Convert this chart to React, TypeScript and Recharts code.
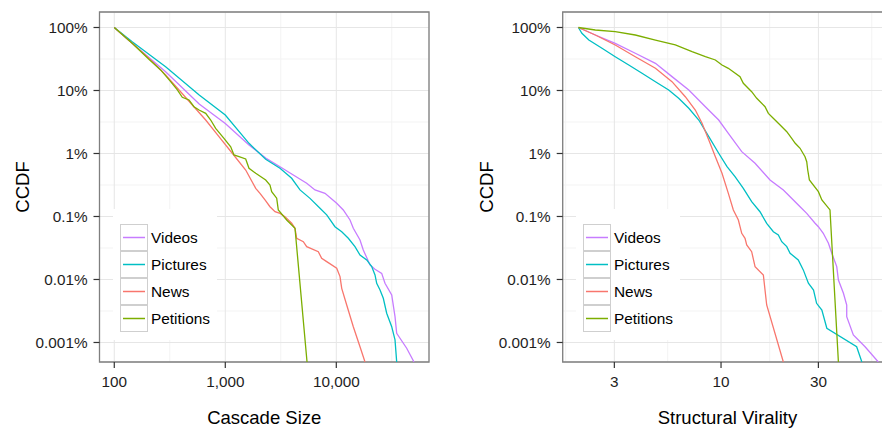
import React from 'react';
import { LineChart, Line, XAxis, YAxis, CartesianGrid, ReferenceArea, Legend } from 'recharts';

const FONT = '"Liberation Sans", Arial, Helvetica, sans-serif';

const seriesNames = ['Videos', 'Pictures', 'News', 'Petitions'];
const seriesColors = ['#C77CFF', '#00BFC4', '#F8766D', '#7CAE00'];

// y axis (CCDF, shared)
const yTicks = [1, 0.1, 0.01, 0.001, 0.0001, 0.00001];
const yTickLabels = ['100%', '10%', '1%', '0.1%', '0.01%', '0.001%'];
const yMinor = [0.316228, 0.0316228, 0.00316228, 0.000316228, 0.0000316228];
const yDomain = [0.0000049, 1.762];

// left panel: Cascade Size
const sizeTicks = [100, 1000, 10000];
const sizeTickLabels = ['100', '1,000', '10,000'];
const sizeMinor = [316.228, 3162.28, 31622.8];
const sizeDomain = [73.6, 68400];

const sizeVideos: [number, number][] = [
  [100, 1], [145, 0.561], [290, 0.199], [582, 0.0611], [1000, 0.0299], [1635, 0.0136], [2312, 0.0085],
  [3110, 0.00617], [4099, 0.00456], [5412, 0.00337], [6427, 0.00264], [7907, 0.00233], [10083, 0.00162],
  [11560, 0.00127], [13290, 0.00088], [14230, 0.00065], [16350, 0.000424], [17500, 0.000294],
  [20130, 0.00017], [22320, 0.000145], [25640, 0.000125], [27460, 0.000087], [31560, 0.0000568],
  [33800, 0.0000257], [35000, 0.000014], [43060, 0.0000081], [50120, 0.0000049],
];
const sizePictures: [number, number][] = [
  [100, 1], [145, 0.595], [290, 0.239], [582, 0.0849], [1000, 0.0408], [1635, 0.0145], [2312, 0.00809],
  [3110, 0.00582], [3962, 0.00404], [4710, 0.00264], [5797, 0.00194], [7130, 0.00135], [8195, 0.00106],
  [9727, 0.000689], [11190, 0.000574], [12830, 0.000451], [14730, 0.000332], [16350, 0.000245],
  [18790, 0.000204], [20840, 0.00016], [22320, 0.000118], [23120, 0.0000871], [24770, 0.0000681],
  [26510, 0.0000503], [28440, 0.0000291], [31560, 0.0000178], [33800, 0.000011], [35000, 0.0000049],
];
const sizeNews: [number, number][] = [
  [100, 1], [145, 0.561], [205, 0.324], [290, 0.176], [383, 0.102], [505, 0.0589], [666, 0.034],
  [877, 0.0185], [1156, 0.0101], [1527, 0.00547], [1880, 0.0028], [2054, 0.00233], [2279, 0.00183],
  [2527, 0.00143], [2805, 0.00119], [3110, 0.00112], [3451, 0.000994], [3962, 0.00078], [4246, 0.00065],
  [4397, 0.000451], [5046, 0.000398], [5412, 0.000332], [6885, 0.000276], [7380, 0.000217],
  [8195, 0.000192], [10083, 0.000151], [10800, 0.000111], [11190, 0.0000724], [12410, 0.0000394],
  [14230, 0.0000178], [16350, 0.00000857], [18140, 0.0000049],
];
const sizePetitions: [number, number][] = [
  [100, 1], [145, 0.561], [205, 0.313], [262, 0.212], [322, 0.138], [370, 0.102], [410, 0.078],
  [471, 0.0707], [522, 0.0553], [580, 0.049], [666, 0.0434], [739, 0.034], [819, 0.0251], [973, 0.0174],
  [1119, 0.0128], [1198, 0.00947], [1329, 0.0089], [1527, 0.00818], [1635, 0.00582], [1880, 0.00485],
  [2312, 0.0038], [2527, 0.00316], [2618, 0.00248], [2904, 0.00195], [3002, 0.00127], [3573, 0.00088],
  [4246, 0.00065], [5450, 0.0000049],
];

// right panel: Structural Virality
const viralTicks = [3, 10, 30];
const viralTickLabels = ['3', '10', '30'];
const viralMinor = [1.7321, 5.4772, 17.3205, 54.7723];
const viralDomain = [1.675, 69.0];

const viralVideos: [number, number][] = [
  [2, 1], [2.42, 0.76], [3.03, 0.561], [3.8, 0.39], [4.77, 0.27], [5.75, 0.166], [6.95, 0.102],
  [8.38, 0.0553], [9.74, 0.034], [10.86, 0.0209], [12.63, 0.0107], [14.68, 0.00699], [17.38, 0.0038],
  [20.2, 0.00264], [21.8, 0.00206], [24.4, 0.00143], [26.3, 0.00112], [28.9, 0.00078], [30, 0.000689],
  [31.7, 0.000541], [33.6, 0.000376], [34.9, 0.000261], [36.9, 0.00016], [37.6, 0.0000982],
  [39.8, 0.0000604], [41.3, 0.0000394], [41.3, 0.0000257], [44.5, 0.0000132], [50.8, 0.00000857],
  [59, 0.0000049],
];
const viralPictures: [number, number][] = [
  [2, 1], [2.08, 0.809], [2.25, 0.633], [2.61, 0.468], [3.03, 0.344], [3.53, 0.254], [4.1, 0.1875],
  [4.77, 0.138], [5.54, 0.102], [6.2, 0.0752], [6.95, 0.0522], [7.78, 0.034], [8.71, 0.0185],
  [9.74, 0.0101], [10.7, 0.00617], [11.71, 0.00428], [12.86, 0.0028], [14.13, 0.00172], [15.52, 0.00119],
  [16.74, 0.00078], [18.05, 0.000574], [19.09, 0.000508], [19.84, 0.000398], [21, 0.000332],
  [21.8, 0.000261], [23.9, 0.000204], [25.3, 0.000142], [26.8, 0.0000871], [28.4, 0.0000681],
  [29.4, 0.0000419], [31.2, 0.0000328], [33, 0.0000168], [46.2, 0.00000857], [49, 0.0000049],
];
const viralNews: [number, number][] = [
  [2, 1], [2.42, 0.76], [3.03, 0.528], [3.8, 0.344], [4.77, 0.225], [5.75, 0.138], [6.68, 0.0797],
  [7.48, 0.049], [8.07, 0.0302], [8.71, 0.0164], [9.38, 0.0089], [10.11, 0.00485], [10.86, 0.00233],
  [11.49, 0.00127], [12.16, 0.00088], [12.63, 0.000541], [13.11, 0.000451], [13.36, 0.000353],
  [14.13, 0.000276], [14.68, 0.00016], [16.12, 0.000118], [16.74, 0.0000394], [20.2, 0.0000049],
];
const viralPetitions: [number, number][] = [
  [2, 1], [2.42, 0.913], [3.03, 0.858], [3.8, 0.76], [4.77, 0.633], [5.97, 0.528], [7.21, 0.413],
  [8.38, 0.344], [9.38, 0.305], [10.11, 0.254], [10.86, 0.225], [12.39, 0.166], [12.86, 0.13],
  [14.13, 0.0957], [14.96, 0.0752], [16.43, 0.0553], [17.06, 0.0434], [18.03, 0.0362], [19.09, 0.0302],
  [20.2, 0.0251], [21, 0.0222], [22.2, 0.0174], [23.1, 0.0145], [24.4, 0.0121], [25.8, 0.0089],
  [26.3, 0.00741], [26.6, 0.00547], [27.1, 0.0038], [30, 0.00248], [31.2, 0.00183], [34.2, 0.00127],
  [37.6, 0.0000049],
];

const toRows = (pts: [number, number][]) => pts.map(([x, y]) => ({ x, y }));

const pickLabel = (ticks: number[], labels: string[]) => (v: number) => {
  let best = 0;
  let bd = Infinity;
  ticks.forEach((t, i) => {
    const d = Math.abs(Math.log10(t) - Math.log10(v));
    if (d < bd) { bd = d; best = i; }
  });
  return labels[best];
};

const LegendBox = () => (
  <div style={{ background: '#fff', width: 104, height: 131, boxSizing: 'border-box', paddingTop: 15, paddingLeft: 7, fontFamily: FONT }}>
    {seriesNames.map((n, i) => (
      <div key={n} style={{ display: 'flex', alignItems: 'center', height: 27 }}>
        <svg width={28} height={27} style={{ display: 'block' }}>
          <rect x={0.5} y={0.5} width={27} height={26} fill="#fff" stroke="#cfcfcf" strokeWidth={1} />
          <line x1={3} x2={25} y1={13.5} y2={13.5} stroke={seriesColors[i]} strokeWidth={1.5} />
        </svg>
        <span style={{ marginLeft: 3, fontSize: 15.4, color: '#000', lineHeight: '27px' }}>{n}</span>
      </div>
    ))}
  </div>
);

type PanelProps = {
  left: number;
  width: number;
  rightMargin: number;
  yAxisWidth: number;
  xDomain: number[];
  xTicks: number[];
  xTickLabels: string[];
  xMinor: number[];
  xTitle: string;
  yTitleOffset: number;
  legendLeft: number;
  series: [number, number][][];
};

const Panel = (p: PanelProps) => (
  <div style={{ position: 'absolute', left: p.left, top: 0, width: p.width, height: 429 }}>
    <LineChart width={p.width} height={429} margin={{ top: 12, right: p.rightMargin, bottom: 0, left: 0 }}>
      <CartesianGrid horizontalValues={yMinor} verticalValues={p.xMinor} stroke="#f3f3f3" strokeWidth={1} />
      <CartesianGrid stroke="#e6e6e6" strokeWidth={1} />
      <XAxis
        type="number"
        dataKey="x"
        scale="log"
        domain={p.xDomain}
        allowDataOverflow
        ticks={p.xTicks}
        tickFormatter={pickLabel(p.xTicks, p.xTickLabels)}
        axisLine={false}
        tickLine={{ stroke: '#333', strokeWidth: 1.2 }}
        tickSize={6}
        tickMargin={8}
        height={67}
        tick={{ fontSize: 15.3, fill: '#1e1e1e' }}
        label={{ value: p.xTitle, position: 'insideBottom', offset: 5, style: { fontSize: 18.5, fill: '#000' } }}
      />
      <YAxis
        type="number"
        dataKey="y"
        scale="log"
        domain={yDomain}
        allowDataOverflow
        ticks={yTicks}
        tickFormatter={pickLabel(yTicks, yTickLabels)}
        axisLine={false}
        tickLine={{ stroke: '#333', strokeWidth: 1.2 }}
        tickSize={6}
        tickMargin={6}
        width={p.yAxisWidth}
        tick={{ fontSize: 15.3, fill: '#1e1e1e' }}
        label={{ value: 'CCDF', angle: -90, position: 'insideLeft', offset: p.yTitleOffset, style: { fontSize: 18.5, fill: '#000', textAnchor: 'middle' } }}
      />
      {p.series.map((s, i) => (
        <Line
          key={seriesNames[i]}
          data={toRows(s)}
          dataKey="y"
          name={seriesNames[i]}
          type="linear"
          stroke={seriesColors[i]}
          strokeWidth={1.3}
          dot={false}
          activeDot={false}
          isAnimationActive={false}
        />
      ))}
      <ReferenceArea
        x1={p.xDomain[0]}
        x2={p.xDomain[1]}
        y1={yDomain[0]}
        y2={yDomain[1]}
        ifOverflow="visible"
        fill="none"
        fillOpacity={0}
        stroke="#7f7f7f"
        strokeWidth={1.3}
      />
      <Legend
        layout="vertical"
        align="center"
        verticalAlign="middle"
        wrapperStyle={{ left: p.legendLeft, top: 209, width: 104, height: 131 }}
        content={() => <LegendBox />}
      />
    </LineChart>
  </div>
);

export default function App() {
  return (
    <div style={{ position: 'absolute', left: 0, top: 0, width: 882, height: 429, overflow: 'hidden', background: '#fff', fontFamily: FONT }}>
      <Panel
        left={0}
        width={441}
        rightMargin={12}
        yAxisWidth={99.5}
        xDomain={sizeDomain}
        xTicks={sizeTicks}
        xTickLabels={sizeTickLabels}
        xMinor={sizeMinor}
        xTitle="Cascade Size"
        yTitleOffset={22.5}
        legendLeft={113}
        series={[sizeVideos, sizePictures, sizeNews, sizePetitions]}
      />
      <Panel
        left={441}
        width={464}
        rightMargin={12.8}
        yAxisWidth={121.7}
        xDomain={viralDomain}
        xTicks={viralTicks}
        xTickLabels={viralTickLabels}
        xMinor={viralMinor}
        xTitle="Structural Virality"
        yTitleOffset={45}
        legendLeft={135}
        series={[viralVideos, viralPictures, viralNews, viralPetitions]}
      />
    </div>
  );
}
